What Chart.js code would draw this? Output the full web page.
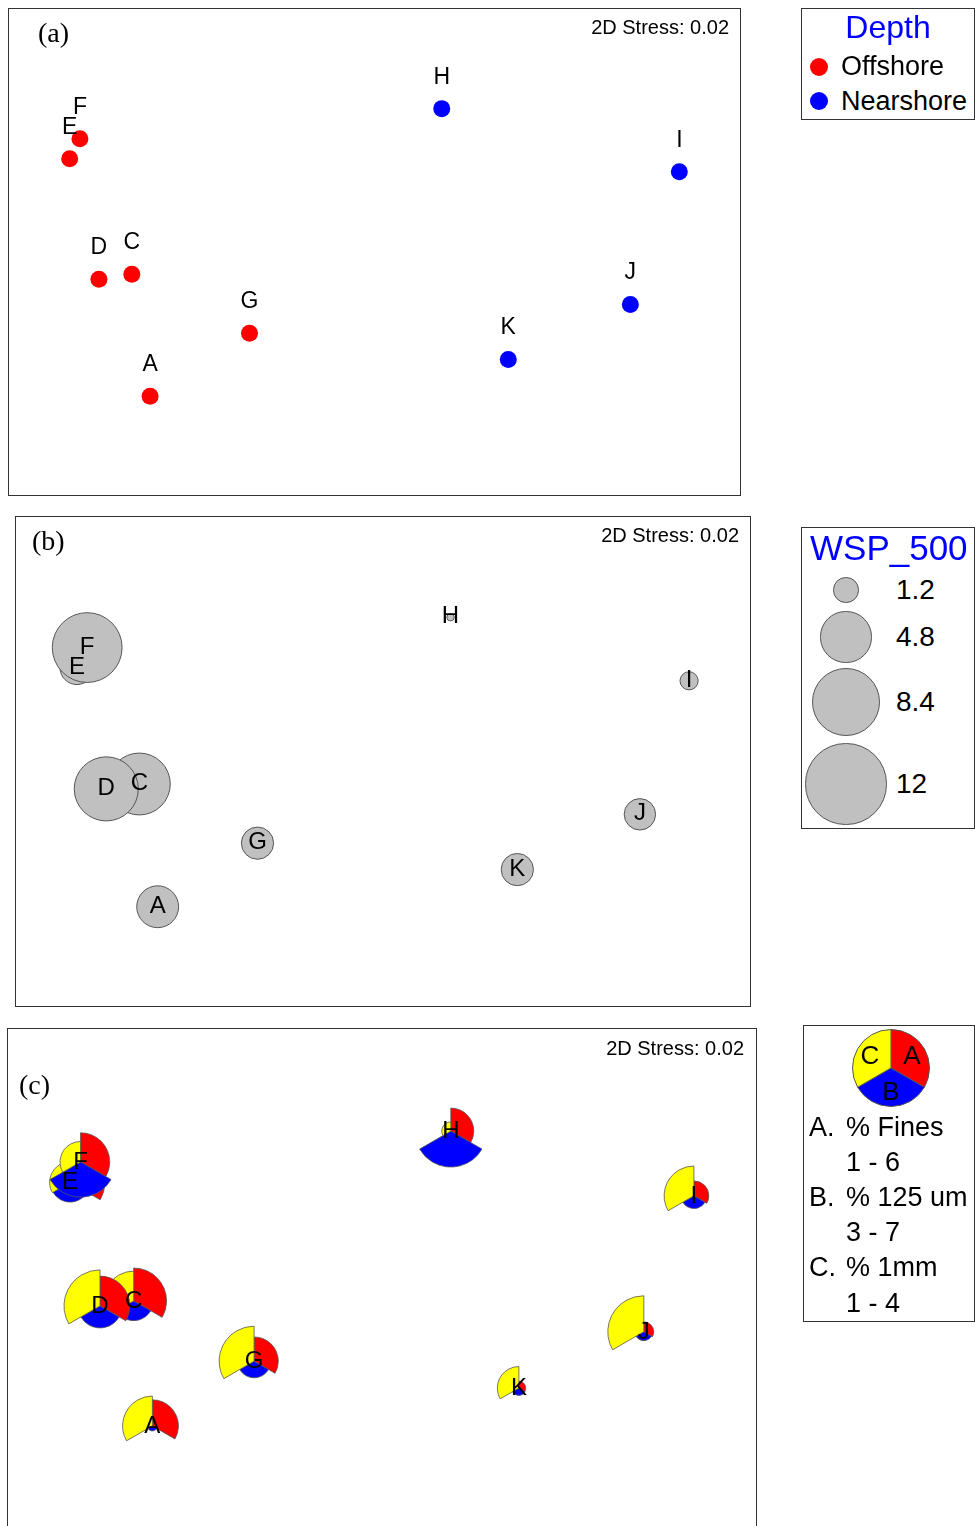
<!DOCTYPE html>
<html>
<head>
<meta charset="utf-8">
<script src="https://cdn.jsdelivr.net/npm/chart.js@4.4.1/dist/chart.umd.min.js"></script>
<style>
html,body{margin:0;padding:0;background:#fff;}
body{width:975px;height:1526px;overflow:hidden;position:relative;font-family:'Liberation Sans',Arial,sans-serif;color:#000;}
.box{position:absolute;border:1px solid #333;box-sizing:border-box;}
.t{position:absolute;line-height:1;white-space:nowrap;transform:translateY(-50%);}
.c{transform:translate(-50%,-50%);}
.serif{font-family:'Liberation Serif','Times New Roman',serif;font-size:28px;}
.stress{font-size:20px;}
.lg{font-size:27px;}
canvas{position:absolute;}
.dot{position:absolute;border-radius:50%;box-sizing:border-box;}
</style>
</head>
<body>
<!-- panel boxes -->
<div class="box" style="left:8px;top:8px;width:733px;height:488px;"></div>
<div class="box" style="left:15px;top:516px;width:736px;height:491px;"></div>
<div class="box" style="left:7px;top:1028px;width:750px;height:510px;"></div>
<canvas id="figA" width="731" height="486" style="left:9px;top:9px;"></canvas>
<canvas id="figB" width="734" height="489" style="left:16px;top:517px;"></canvas>
<canvas id="figC" width="748" height="498" style="left:8px;top:1029px;"></canvas>

<div class="t serif" style="left:38px;top:33px;">(a)</div>
<div class="t serif" style="left:32px;top:541px;">(b)</div>
<div class="t serif" style="left:19px;top:1085px;">(c)</div>
<div class="t stress" style="right:246px;top:27px;">2D Stress: 0.02</div>
<div class="t stress" style="right:236px;top:535px;">2D Stress: 0.02</div>
<div class="t stress" style="right:231px;top:1048px;">2D Stress: 0.02</div>

<!-- legend (a) -->
<div class="box" style="left:801px;top:8px;width:174px;height:112px;"></div>
<div class="t c" style="left:888px;top:27px;font-size:32px;color:#0000FF;">Depth</div>
<div class="dot" style="left:810px;top:58px;width:18px;height:18px;background:#FF0000;"></div>
<div class="dot" style="left:810px;top:92px;width:18px;height:18px;background:#0000FF;"></div>
<div class="t lg" style="left:841px;top:66px;">Offshore</div>
<div class="t lg" style="left:841px;top:101px;">Nearshore</div>

<!-- legend (b) -->
<div class="box" style="left:801px;top:527px;width:174px;height:302px;"></div>
<div class="t" style="left:810px;top:547px;font-size:35px;color:#0000FF;">WSP_500</div>
<div id="legB"></div>

<!-- legend (c) -->
<div class="box" style="left:803px;top:1025px;width:172px;height:297px;"></div>
<canvas id="legPie" width="78" height="78" style="left:852px;top:1029px;"></canvas>
<div class="t c" style="left:870px;top:1055px;font-size:26px;">C</div>
<div class="t c" style="left:912px;top:1055px;font-size:26px;">A</div>
<div class="t c" style="left:891px;top:1091px;font-size:26px;">B</div>
<div class="t lg" style="left:809px;top:1127px;">A.</div>
<div class="t lg" style="left:846px;top:1127px;">% Fines</div>
<div class="t lg" style="left:846px;top:1162px;">1 - 6</div>
<div class="t lg" style="left:809px;top:1197px;">B.</div>
<div class="t lg" style="left:846px;top:1197px;">% 125 um</div>
<div class="t lg" style="left:846px;top:1232px;">3 - 7</div>
<div class="t lg" style="left:809px;top:1267px;">C.</div>
<div class="t lg" style="left:846px;top:1267px;">% 1mm</div>
<div class="t lg" style="left:846px;top:1303px;">1 - 4</div>

<script>
// sites and MDS ordination (axes hidden, scaled 0-100)
var sites = ['A', 'C', 'D', 'E', 'F', 'G', 'H', 'I', 'J', 'K'];
var mdsX = [19.3, 16.8, 12.3, 8.3, 9.7, 32.9, 59.2, 91.7, 85.0, 68.3];
var mdsY = [20.3, 45.4, 44.4, 69.2, 73.3, 33.3, 79.5, 66.5, 39.2, 27.9];
var depth = ['Offshore', 'Offshore', 'Offshore', 'Offshore', 'Offshore', 'Offshore',
             'Nearshore', 'Nearshore', 'Nearshore', 'Nearshore'];
var depthGroups = ['Offshore', 'Nearshore'];
var depthColors = ['#FF0000', '#0000FF'];

// (b) bubble variable
var wsp500 = [3.2, 7.0, 7.5, 2.1, 8.9, 1.9, 0.1, 0.6, 1.8, 1.9];
var wspLegend = [1.2, 4.8, 8.4, 12];

// (c) segmented bubbles
var pctFines = [4.4, 5.5, 5.0, 5.8, 4.9, 4.1, 3.9, 2.6, 1.8, 1.3];
var pct125um = [3.0, 4.9, 5.2, 4.9, 6.9, 4.5, 7.0, 4.0, 3.5, 3.3];
var pct1mm   = [3.4, 3.4, 4.0, 2.5, 2.5, 3.9, 1.4, 3.4, 4.0, 2.6];
var finesRange = [1, 6];
var um125Range = [3, 7];
var mm1Range = [1, 4];

var bubbleK = 11.7;   // px per sqrt(unit)
var segMin = 5, segMax = 36;

function baseOptions() {
	return {
		responsive: false,
		animation: false,
		events: [],
		layout: { padding: 0, autoPadding: false },
		plugins: { legend: { display: false }, tooltip: { enabled: false } },
		scales: {
			x: { type: 'linear', min: 0, max: 100, display: false },
			y: { type: 'linear', min: 0, max: 100, display: false }
		}
	};
}

function sitePoints(filter) {
	var pts = [];
	for (var i in sites) {
		if (!filter || filter(i)) pts.push({ x: mdsX[i], y: mdsY[i] });
	}
	return pts;
}

function labelPlugin(size, dy) {
	return {
		id: 'siteLabels',
		afterDatasetsDraw: function (chart) {
			var ctx = chart.ctx, xs = chart.scales.x, ys = chart.scales.y;
			ctx.save();
			ctx.font = size + 'px "Liberation Sans", Arial, sans-serif';
			ctx.fillStyle = '#000';
			ctx.textAlign = 'center';
			ctx.textBaseline = 'alphabetic';
			for (var i in sites) {
				ctx.fillText(sites[i], xs.getPixelForValue(mdsX[i]), ys.getPixelForValue(mdsY[i]) + dy);
			}
			ctx.restore();
		}
	};
}

// ---- (a) depth groups
var dsA = [];
for (var g in depthGroups) {
	dsA.push({
		label: depthGroups[g],
		data: sitePoints(function (i) { return depth[i] == depthGroups[g]; }),
		clip: false,
		pointRadius: 8.5,
		pointBackgroundColor: depthColors[g],
		pointBorderColor: depthColors[g],
		pointBorderWidth: 0
	});
}
new Chart(document.getElementById('figA'), {
	type: 'scatter',
	data: { datasets: dsA },
	options: baseOptions(),
	plugins: [labelPlugin(23, -25)]
});

// ---- (b) WSP_500 bubbles
new Chart(document.getElementById('figB'), {
	type: 'scatter',
	data: {
		datasets: [{
			label: 'WSP_500',
			data: sitePoints(),
			clip: false,
			pointRadius: function (c) { return bubbleK * Math.sqrt(wsp500[c.dataIndex]); },
			pointBackgroundColor: '#C0C0C0',
			pointBorderColor: '#555',
			pointBorderWidth: 1
		}]
	},
	options: baseOptions(),
	plugins: [labelPlugin(24, 6)]
});

var legB = document.getElementById('legB');
var legBY = [590, 637, 702, 784];
for (var j in wspLegend) {
	var r = bubbleK * Math.sqrt(wspLegend[j]);
	var d = document.createElement('div');
	d.className = 'dot';
	d.style.cssText = 'left:' + (846 - r) + 'px;top:' + (legBY[j] - r) + 'px;width:' + (2 * r) + 'px;height:' + (2 * r) +
		'px;background:#C0C0C0;border:1px solid #555;';
	legB.appendChild(d);
	var t = document.createElement('div');
	t.className = 't';
	t.style.cssText = 'left:896px;top:' + legBY[j] + 'px;font-size:28px;';
	t.textContent = String(wspLegend[j]);
	legB.appendChild(t);
}

// ---- (c) segmented bubbles
function segRadius(v, range) {
	return segMin + (segMax - segMin) * (v - range[0]) / (range[1] - range[0]);
}
var glyphPlugin = {
	id: 'segGlyphs',
	afterDatasetsDraw: function (chart) {
		var ctx = chart.ctx;
		var meta = chart.getDatasetMeta(0);
		var segs = [
			{ vals: pctFines, range: finesRange, color: '#FF0000', a0: -90, a1: 30 },
			{ vals: pct125um, range: um125Range, color: '#0000FF', a0: 30, a1: 150 },
			{ vals: pct1mm, range: mm1Range, color: '#FFFF00', a0: 150, a1: 270 }
		];
		ctx.save();
		ctx.lineWidth = 0.8;
		ctx.strokeStyle = '#555';
		meta.data.forEach(function (pt, i) {
			segs.forEach(function (s) {
				var r = segRadius(s.vals[i], s.range);
				ctx.beginPath();
				ctx.moveTo(pt.x, pt.y);
				ctx.arc(pt.x, pt.y, r, s.a0 * Math.PI / 180, s.a1 * Math.PI / 180);
				ctx.closePath();
				ctx.fillStyle = s.color;
				ctx.fill();
				ctx.stroke();
			});
		});
		ctx.restore();
	}
};
new Chart(document.getElementById('figC'), {
	type: 'scatter',
	data: { datasets: [{ label: 'sediment', data: sitePoints(), pointRadius: 0 }] },
	options: baseOptions(),
	plugins: [glyphPlugin, labelPlugin(24, 7)]
});

new Chart(document.getElementById('legPie'), {
	type: 'pie',
	data: {
		labels: ['A', 'B', 'C'],
		datasets: [{ data: [1, 1, 1], backgroundColor: ['#FF0000', '#0000FF', '#FFFF00'], borderColor: '#555', borderWidth: 1 }]
	},
	options: { responsive: false, animation: false, events: [], plugins: { legend: { display: false }, tooltip: { enabled: false } } }
});
</script>
</body>
</html>
